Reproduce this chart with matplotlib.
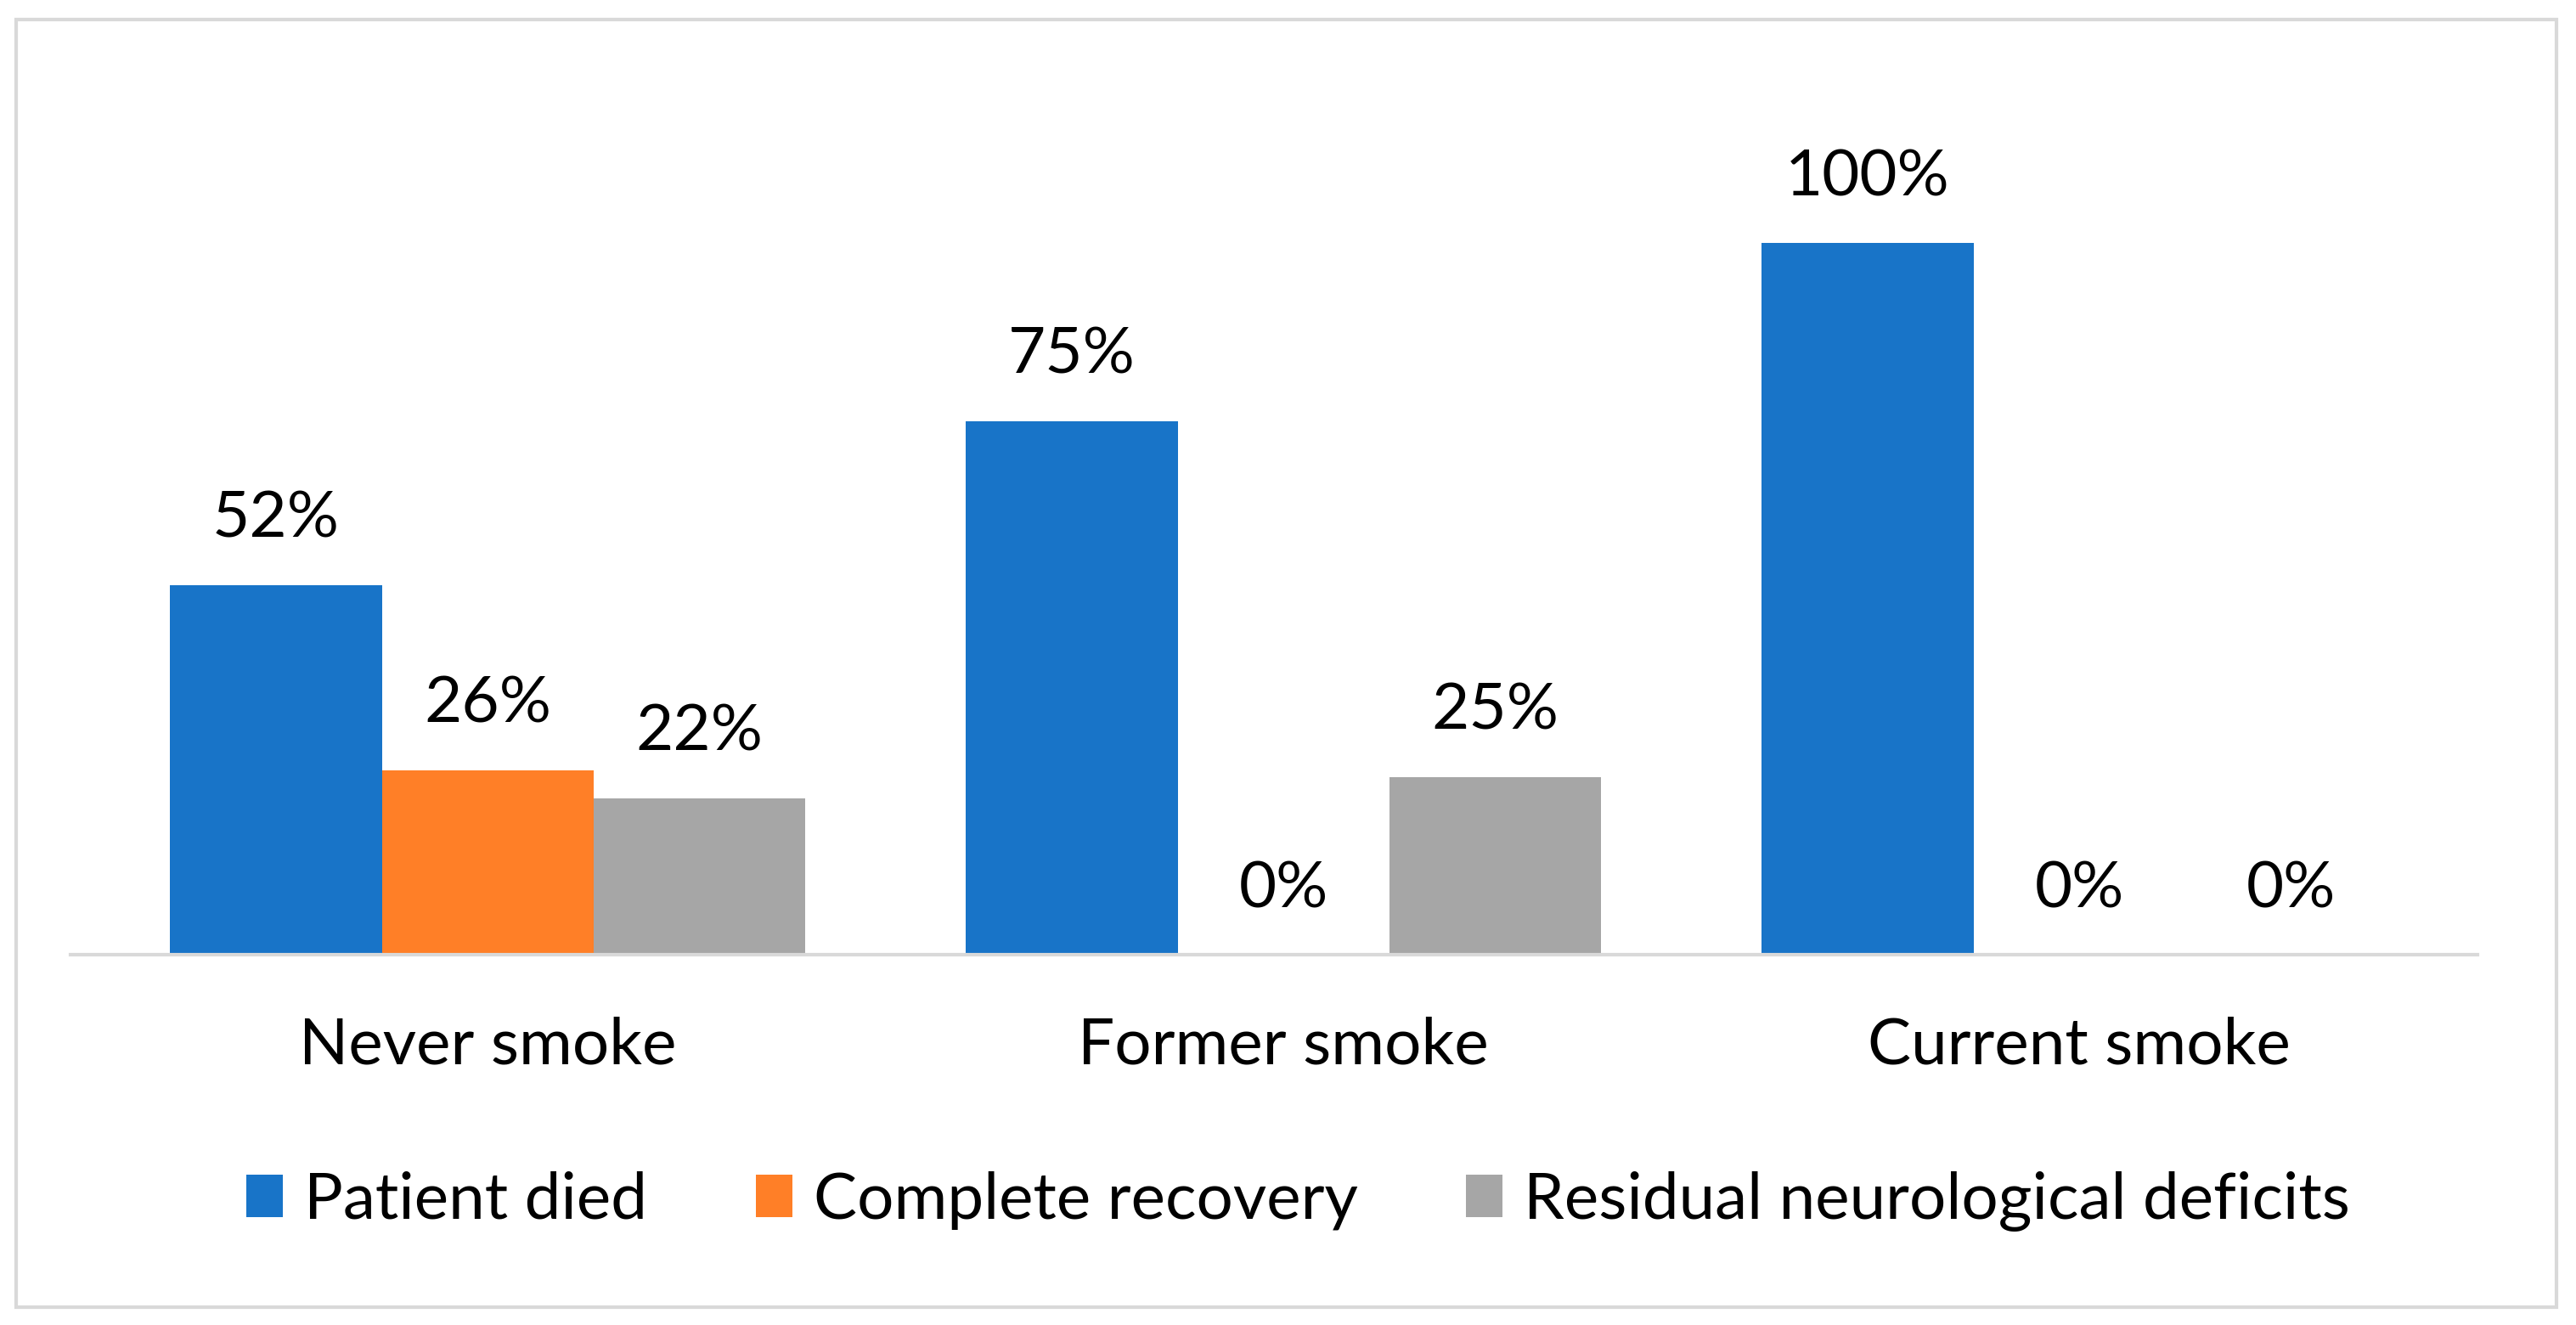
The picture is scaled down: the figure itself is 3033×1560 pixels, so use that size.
import numpy as np
import matplotlib.pyplot as plt
from matplotlib.patches import Rectangle

# dados do grafico
categories = ['Never smoke', 'Former smoke', 'Current smoke']
series = ['Patient died', 'Complete recovery', 'Residual neurological deficits']
died = [52, 75, 100]
recovery = [26, 0, 0]
residual = [22, 25, 0]
colors = ['#1874C8', '#FF7F27', '#A6A6A6']

plt.rcParams['font.family'] = ['Lato', 'DejaVu Sans']

fig = plt.figure(figsize=(30.33, 15.60), dpi=100)
ax = fig.add_axes([0.0274, 0.2792, 0.9343, 0.6448])

x = np.arange(len(categories))
width = 0.266
values = [died, recovery, residual]
for i, (name, vals) in enumerate(zip(series, values)):
    pos = x + (i - 1) * width
    bars = ax.bar(pos, vals, width, color=colors[i], label=name)
    for b, v in zip(bars, vals):
        ax.annotate('%d%%' % v, (b.get_x() + b.get_width() / 2, v),
                    xytext=(0, 31), textcoords='offset points',
                    ha='center', va='bottom', fontsize=55, color='black')

ax.set_xlim(-0.524, 2.5)
ax.set_ylim(0, 120)
ax.set_xticks(x)
ax.set_xticklabels(categories, fontsize=55)
ax.tick_params(axis='x', length=0, pad=52)
ax.set_yticks([])
for s in ['top', 'right', 'left']:
    ax.spines[s].set_visible(False)
ax.spines['bottom'].set_color('#D9D9D9')
ax.spines['bottom'].set_linewidth(3)

# legenda
leg = fig.legend(loc='center', bbox_to_anchor=(0.504, 0.0935), ncol=3,
                 frameon=False, fontsize=55, handlelength=0.56,
                 handleheight=0.62, handletextpad=0.33, columnspacing=1.67)

# borda externa
fig.patches.append(Rectangle((0.0064, 0.0136), 0.9860, 0.9715,
                             transform=fig.transFigure, fill=False,
                             edgecolor='#D9D9D9', linewidth=3))

fig.savefig('out.png', dpi=100, facecolor='white')
